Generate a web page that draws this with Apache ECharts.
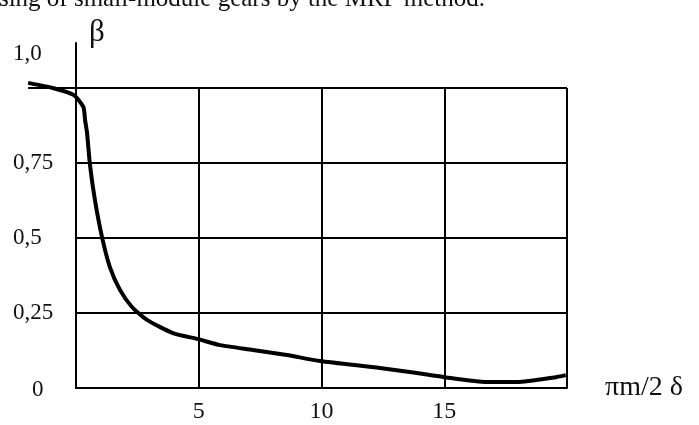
<!DOCTYPE html>
<html>
<head>
<meta charset="utf-8">
<script src="https://cdn.jsdelivr.net/npm/echarts@6/dist/echarts.min.js"></script>
<style>
html,body{margin:0;padding:0;background:#fff;}
#c{width:699px;height:425px;}
</style>
</head>
<body>
<div id="c"></div>
<script>
// Data
const xValues = [-1.95, -0.95, -0.1, 0.3, 0.37, 0.45, 0.57, 0.77, 1.06, 1.38, 1.79, 2.28, 2.89, 3.95, 4.97, 5.87, 7.21, 8.59, 9.94, 12.38, 13.89, 14.95, 16.74, 17.96, 19.59, 19.95];
const betaValues = [1.017, 1.0, 0.977, 0.937, 0.893, 0.85, 0.743, 0.627, 0.503, 0.403, 0.327, 0.27, 0.227, 0.183, 0.163, 0.143, 0.127, 0.11, 0.09, 0.067, 0.05, 0.037, 0.02, 0.02, 0.037, 0.043];
const xTickLabels = ['5', '10', '15'];
const yTickLabels = ['0', '0,25', '0,5', '0,75', '1,0'];
const captionText = 'ssing of small-module gears by the MRP method.';
const yAxisName = 'β';
const xAxisName = 'πm/2 δ';

const FONT = 'Liberation Serif';
const seriesData = xValues.map((x, i) => [x, betaValues[i]]);

// plot area geometry
const L = 76, T = 88, W = 491, H = 300;
const pxPerX = W / 20;

const chart = echarts.init(document.getElementById('c'), null, {renderer: 'canvas'});
chart.setOption({
  backgroundColor: '#ffffff',
  animation: false,
  title: {
    text: captionText,
    right: 214,
    top: -13,
    padding: 0,
    textStyle: {fontFamily: FONT, fontSize: 25, fontWeight: 'normal', color: '#111'}
  },
  grid: [
    {left: L, top: T, width: W, height: H},
    {left: L, top: 43, width: W, height: T + H - 43},
    {left: L - 2 * pxPerX, top: T, width: W + 2 * pxPerX, height: H}
  ],
  xAxis: [
    {
      gridIndex: 0, type: 'value', min: 0, max: 20, interval: 5,
      axisLine: {show: true, onZero: false, lineStyle: {color: '#000', width: 2}},
      axisTick: {show: false},
      splitLine: {show: true, lineStyle: {color: '#000', width: 2}},
      axisLabel: {
        margin: 12, color: '#111', fontFamily: FONT, fontSize: 24,
        formatter: v => { const i = xTickLabels.indexOf(String(v)); return i >= 0 ? xTickLabels[i] : ''; }
      },
      name: xAxisName, nameLocation: 'end', nameGap: 38,
      nameTextStyle: {fontFamily: FONT, fontSize: 28, color: '#111', align: 'left', verticalAlign: 'middle', padding: [4, 0, 0, 0]}
    },
    {gridIndex: 1, type: 'value', min: 0, max: 20, show: false},
    {gridIndex: 2, type: 'value', min: -2, max: 20, show: false}
  ],
  yAxis: [
    {
      gridIndex: 0, type: 'value', min: 0, max: 1, interval: 0.25,
      axisLine: {show: true, onZero: false, lineStyle: {color: '#000', width: 2}},
      axisTick: {show: false},
      splitLine: {show: true, lineStyle: {color: '#000', width: 2}},
      axisLabel: {
        align: 'left', margin: 63, color: '#111', fontFamily: FONT, fontSize: 24,
        formatter: v => {
          const idx = Math.round(v / 0.25);
          const t = yTickLabels[idx];
          if (t === undefined) return '';
          if (idx === 4) return '{top|' + t + '}';
          if (idx === 0) return '{zero|' + t + '}';
          return '{n|' + t + '}';
        },
        rich: {
          top: {fontFamily: FONT, fontSize: 23, color: '#111', padding: [0, 0, 69, 0]},
          zero: {fontFamily: FONT, fontSize: 23, color: '#111', padding: [4, 0, 0, 19]},
          n: {fontFamily: FONT, fontSize: 23, color: '#111'}
        }
      }
    },
    {
      gridIndex: 1, type: 'value', min: 0, max: 1.15,
      axisLine: {show: true, onZero: false, lineStyle: {color: '#000', width: 2}},
      axisTick: {show: false}, axisLabel: {show: false}, splitLine: {show: false},
      name: yAxisName, nameLocation: 'end', nameGap: 10,
      nameTextStyle: {fontFamily: FONT, fontSize: 31, color: '#111', align: 'left', verticalAlign: 'middle', padding: [0, 0, 0, 13]}
    },
    {gridIndex: 2, type: 'value', min: 0, max: 1, show: false}
  ],
  series: [
    {
      type: 'line', xAxisIndex: 2, yAxisIndex: 2,
      data: seriesData, smooth: 0.2, showSymbol: false, clip: false,
      lineStyle: {color: '#000', width: 4},
      markLine: {
        silent: true, symbol: 'none', label: {show: false},
        lineStyle: {color: '#000', width: 2, type: 'solid'},
        data: [[{coord: [-1.95, 1]}, {coord: [0, 1]}]]
      }
    }
  ]
});
</script>
</body>
</html>
